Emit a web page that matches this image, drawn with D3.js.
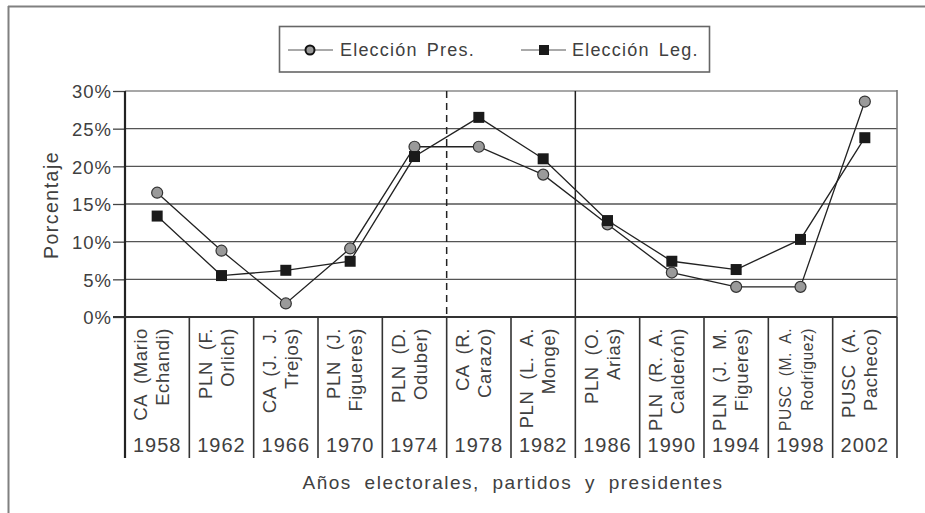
<!DOCTYPE html>
<html>
<head>
<meta charset="utf-8">
<script src="https://cdn.jsdelivr.net/npm/d3@7"></script>
<style>
  html, body { margin: 0; padding: 0; background: #fff; }
  svg text { font-family: "Liberation Sans", Arial, sans-serif; fill: #404040; }
</style>
</head>
<body>
<svg id="chart" width="925" height="513"></svg>
<script>
// Election years (category keys)
const years = ["1958","1962","1966","1970","1974","1978","1982","1986","1990","1994","1998","2002"];
// Party and president for each year, split in two lines
const partyLine1 = ["CA (Mario","PLN (F.","CA (J. J.","PLN (J.","PLN (D.","CA (R.","PLN (L. A.","PLN (O.","PLN (R. A.","PLN (J. M.","PUSC (M. A.","PUSC (A."];
const partyLine2 = ["Echandi)","Orlich)","Trejos)","Figueres)","Oduber)","Carazo)","Monge)","Arias)","Calderón)","Figueres)","Rodríguez)","Pacheco)"];
// Percentages
const presValues = [16.5, 8.8, 1.8, 9.1, 22.6, 22.6, 18.9, 12.3, 5.9, 4.0, 4.0, 28.6];
const legValues  = [13.4, 5.5, 6.2, 7.4, 21.3, 26.5, 21.0, 12.8, 7.4, 6.3, 10.3, 23.8];
const yTicks = [0, 5, 10, 15, 20, 25, 30];
const seriesNames = ["Elección Pres.", "Elección Leg."];

const svg = d3.select("#chart");
const plotLeft = 125, plotRight = 897, plotTop = 91, plotBottom = 317, bandBottom = 458;

const x = d3.scaleBand().domain(years).range([plotLeft, plotRight]).padding(0);
const y = d3.scaleLinear().domain([0, 30]).range([plotBottom, plotTop]);

// Outer frame (top and left edges)
svg.append("line").attr("x1", 8).attr("x2", 925).attr("y1", 6.5).attr("y2", 6.5)
  .attr("stroke", "#808080").attr("stroke-width", 2);
svg.append("line").attr("x1", 8.5).attr("x2", 8.5).attr("y1", 6).attr("y2", 513)
  .attr("stroke", "#808080").attr("stroke-width", 2);

// Horizontal gridlines
svg.append("g").selectAll("line").data(yTicks.filter(d => d > 0)).join("line")
  .attr("x1", plotLeft).attr("x2", plotRight)
  .attr("y1", d => y(d)).attr("y2", d => y(d))
  .attr("stroke", d => d === 30 ? "#8a8a8a" : "#555").attr("stroke-width", 1.3);

// Y axis with tick marks and percent labels
const yAxis = d3.axisLeft(y).tickValues(yTicks).tickSize(12).tickPadding(1)
  .tickFormat(d => d + "%");
const gy = svg.append("g").attr("transform", `translate(${plotLeft},0)`).call(yAxis);
gy.select(".domain").remove();
gy.selectAll(".tick line").attr("stroke", "#444").attr("stroke-width", 1.3);
gy.selectAll(".tick text").attr("font-size", 18.5).attr("letter-spacing", 1)
  .attr("fill", "#404040").attr("font-family", "Liberation Sans, Arial, sans-serif")
  .attr("dy", "0.36em");

// Category separators in the label band
const bounds = years.map(d => x(d)).concat([plotRight]);
svg.append("g").selectAll("line").data(bounds).join("line")
  .attr("x1", d => d).attr("x2", d => d)
  .attr("y1", plotBottom).attr("y2", bandBottom)
  .attr("stroke", "#333").attr("stroke-width", 1.6);

// Right edge of plot area
svg.append("line").attr("x1", plotRight).attr("x2", plotRight)
  .attr("y1", plotTop - 1).attr("y2", plotBottom)
  .attr("stroke", "#777").attr("stroke-width", 1.6);

// Period dividers: dashed before 1978, solid before 1986
svg.append("line").attr("x1", x("1978")).attr("x2", x("1978"))
  .attr("y1", plotTop).attr("y2", plotBottom)
  .attr("stroke", "#222").attr("stroke-width", 1.5).attr("stroke-dasharray", "7,5");
svg.append("line").attr("x1", x("1986")).attr("x2", x("1986"))
  .attr("y1", plotTop).attr("y2", plotBottom)
  .attr("stroke", "#222").attr("stroke-width", 1.5);

// Left axis line and baseline
svg.append("line").attr("x1", plotLeft).attr("x2", plotLeft)
  .attr("y1", plotTop).attr("y2", bandBottom)
  .attr("stroke", "#222").attr("stroke-width", 2.2);
svg.append("line").attr("x1", plotLeft - 12).attr("x2", plotRight)
  .attr("y1", plotBottom).attr("y2", plotBottom)
  .attr("stroke", "#333").attr("stroke-width", 2);

// Category labels (rotated two-line) and years
const cx = d => x(d) + x.bandwidth() / 2;
const labelG = svg.append("g");
const labelSize = 18.5, maxLabel = 103;
years.forEach((yr, i) => {
  const g = labelG.append("g");
  [partyLine1[i], partyLine2[i]].forEach((t, j) => {
    const px = cx(yr) + (j === 0 ? -10 : 12);
    g.append("text")
      .attr("transform", `translate(${px},${328}) rotate(-90)`)
      .attr("text-anchor", "end")
      .attr("font-size", labelSize)
      .attr("letter-spacing", 0.6)
      .attr("word-spacing", 5)
      .text(t);
  });
  // shrink long labels so they fit above the year
  const maxLen = d3.max(g.selectAll("text").nodes(), n => n.getComputedTextLength());
  if (maxLen > maxLabel) {
    const k = maxLabel / maxLen;
    g.selectAll("text").attr("font-size", labelSize * k)
      .attr("word-spacing", 5 * k).attr("letter-spacing", 0.6 * k);
  }
});
svg.append("g").selectAll("text").data(years).join("text")
  .attr("x", d => cx(d)).attr("y", 452)
  .attr("text-anchor", "middle").attr("font-size", 20).attr("letter-spacing", 1)
  .text(d => d);

// Axis titles
svg.append("text").attr("x", 513).attr("y", 489).attr("text-anchor", "middle")
  .attr("font-size", 19).attr("letter-spacing", 1.5).attr("word-spacing", 6)
  .text("Años electorales, partidos y presidentes");
svg.append("text").attr("transform", "translate(58,205) rotate(-90)")
  .attr("text-anchor", "middle").attr("font-size", 19.5).attr("letter-spacing", 1.5)
  .text("Porcentaje");

// Series lines
const line = d3.line().x(d => cx(d.year)).y(d => y(d.value));
const presData = years.map((yr, i) => ({ year: yr, value: presValues[i] }));
const legData = years.map((yr, i) => ({ year: yr, value: legValues[i] }));

svg.append("path").datum(legData).attr("d", line)
  .attr("fill", "none").attr("stroke", "#222").attr("stroke-width", 1.3);
svg.append("path").datum(presData).attr("d", line)
  .attr("fill", "none").attr("stroke", "#222").attr("stroke-width", 1.3);

// Markers
svg.append("g").selectAll("circle").data(presData).join("circle")
  .attr("cx", d => cx(d.year)).attr("cy", d => y(d.value)).attr("r", 5.5)
  .attr("fill", "#9a9a9a").attr("stroke", "#333").attr("stroke-width", 1.2);
svg.append("g").selectAll("rect").data(legData).join("rect")
  .attr("x", d => cx(d.year) - 5.5).attr("y", d => y(d.value) - 5.5)
  .attr("width", 11).attr("height", 11).attr("fill", "#1a1a1a");

// Legend
const legend = svg.append("g");
legend.append("rect").attr("x", 279.5).attr("y", 26.5).attr("width", 430).attr("height", 45.5)
  .attr("fill", "#fff").attr("stroke", "#666").attr("stroke-width", 1.6);
const legY = 50;
const items = [
  { name: seriesNames[0], x0: 288, x1: 333, mx: 310, tx: 340, type: "circle" },
  { name: seriesNames[1], x0: 521, x1: 566, mx: 544, tx: 572, type: "square" }
];
items.forEach(it => {
  legend.append("line").attr("x1", it.x0).attr("x2", it.x1).attr("y1", legY).attr("y2", legY)
    .attr("stroke", "#555").attr("stroke-width", 1);
  if (it.type === "circle") {
    legend.append("circle").attr("cx", it.mx).attr("cy", legY).attr("r", 4.5)
      .attr("fill", "#9a9a9a").attr("stroke", "#111").attr("stroke-width", 2);
  } else {
    legend.append("rect").attr("x", it.mx - 5).attr("y", legY - 5).attr("width", 10).attr("height", 10)
      .attr("fill", "#1a1a1a");
  }
  legend.append("text").attr("x", it.tx).attr("y", legY).attr("dy", "0.36em")
    .attr("font-size", 18).attr("letter-spacing", 1.2).attr("word-spacing", 3)
    .text(it.name);
});
</script>
</body>
</html>
